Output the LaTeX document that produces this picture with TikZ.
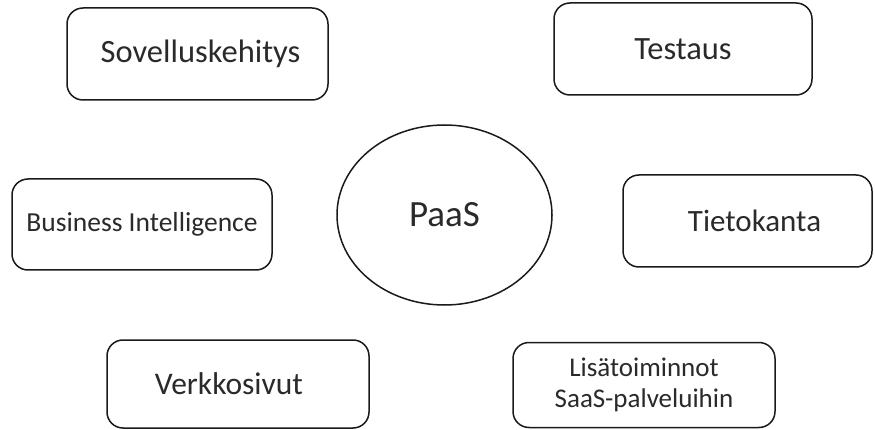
\documentclass[tikz,border=0pt]{standalone}
\usepackage{fontspec}
\setmainfont{Carlito}
\usetikzlibrary{shapes.geometric}
\definecolor{ink}{HTML}{1A1A1A}
\definecolor{txt}{HTML}{2A2A2A}
\tikzset{
  box/.style={draw=ink, line width=1.5pt, rounded corners=16pt, rectangle,
    inner sep=0pt, text=txt, align=center, font=\fontsize{32.5}{38}\selectfont},
  hub/.style={draw=ink, line width=1.5pt, ellipse, inner sep=0pt, text=txt,
    font=\fontsize{37}{44}\selectfont}
}
\begin{document}
\begin{tikzpicture}[x=1pt,y=-1pt]
\useasboundingbox[fill=white] (0,0) rectangle (875,430);
\node[box, minimum width=261pt, minimum height=92pt] (sov) at (197.5,54) {\hspace*{6pt}Sovelluskehitys};
\node[box, minimum width=258pt, minimum height=92pt] (tes) at (683,49) {Testaus};
\node[box, minimum width=260pt, minimum height=91pt, font=\fontsize{27.5}{32}\selectfont] (bi) at (142,224.5) {Business Intelligence};
\node[box, minimum width=249pt, minimum height=92pt, font=\fontsize{31}{36}\selectfont] (tie) at (747.5,221) {\hspace*{14pt}Tietokanta};
\node[box, minimum width=262pt, minimum height=88pt, font=\fontsize{31.5}{36}\selectfont] (ver) at (238,384) {\hspace*{-18pt}Verkkosivut};
\node[box, minimum width=262pt, minimum height=85pt, font=\fontsize{27}{31}\selectfont] (lis) at (644,385) {Lisätoiminnot\\SaaS-palveluihin};
\node[hub, minimum width=215pt, minimum height=180pt] (paas) at (444.5,215) {PaaS};
\end{tikzpicture}
\end{document}
